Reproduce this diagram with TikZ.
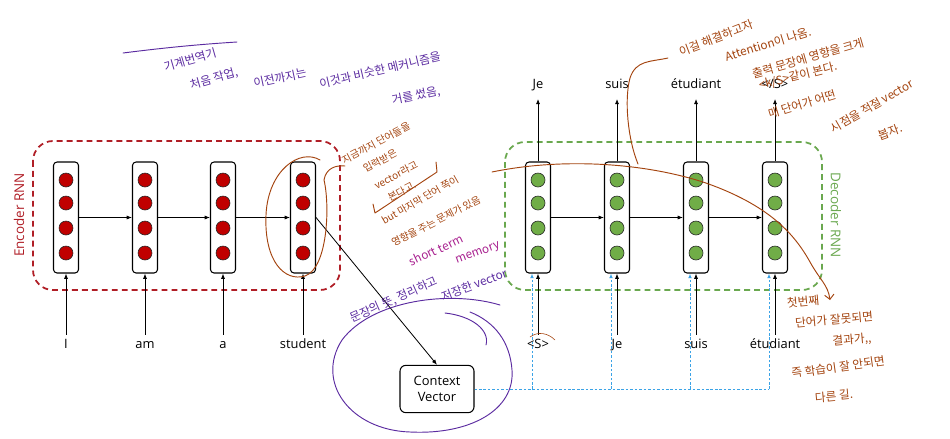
\documentclass[tikz,border=0pt]{standalone}
\usepackage{fontspec}
\setmainfont{Open Sans}
\newfontfamily\kor{Noto Sans CJK KR}
\usepackage{xcolor}
\usepackage{tikz}
\usetikzlibrary{positioning,arrows.meta}

\definecolor{cellred}{HTML}{C00000}
\definecolor{cellgreen}{HTML}{70AD47}
\definecolor{encline}{HTML}{B01E26}
\definecolor{decline}{HTML}{6AA84F}
\definecolor{ctxblue}{HTML}{3BA3E6}
\definecolor{inkbrown}{HTML}{A3430E}
\definecolor{inkpurple}{HTML}{5B2BA0}
\definecolor{inkpink}{HTML}{A8208F}

\begin{document}
\begin{tikzpicture}[
  x=0.03cm, y=-0.03cm,
  font=\fontsize{11}{13}\selectfont,
  cell/.style={
    rectangle, rounded corners=3pt, draw=black, line width=0.9pt,
    minimum width=0.75cm, minimum height=3.33cm, fill=white
  },
  encdot/.style={circle, draw=black!85, line width=0.5pt, fill=cellred,
    minimum size=0.42cm, inner sep=0pt},
  decdot/.style={encdot, fill=cellgreen},
  word/.style={inner sep=1pt, text height=1.5ex, text depth=0.25ex},
  ctxbox/.style={
    rectangle, rounded corners=5pt, draw=black, line width=0.9pt,
    minimum width=2.22cm, minimum height=1.42cm, align=center, fill=white
  },
  arr/.style={-{Latex[length=4.5pt,width=3.5pt]}, line width=0.7pt},
  feed/.style={-{Latex[length=4pt,width=3.2pt]}, draw=ctxblue, line width=0.8pt,
    dash pattern=on 2.2pt off 1.6pt},
  rnnbox/.style={rounded corners=0.6cm, line width=1.5pt, dash pattern=on 5pt off 3.5pt},
  rnnlbl/.style={font=\fontsize{11.5}{13}\selectfont},
  note/.style={font=\kor\fontsize{10}{12}\selectfont, inner sep=0pt, align=center},
  small note/.style={note, font=\kor\fontsize{8.5}{10}\selectfont},
  ink/.style={line width=0.8pt, line cap=round, line join=round}
]
\useasboundingbox (0,0) rectangle (950,438);

\draw[rnnbox, draw=encline] (33,141) rectangle (340,290);
\draw[rnnbox, draw=decline] (505,142) rectangle (822,290);
\node[rnnlbl, text=encline, rotate=90] (enclbl) at (19,215) {Encoder RNN};
\node[rnnlbl, text=decline, rotate=-90] (declbl) at (836,215) {Decoder RNN};

% encoder and decoder cells
\foreach \x [count=\i] in {66,145,223,303} {
  \node[cell] (enc\i) at (\x,217.5) {};
  \foreach \y [count=\j] in {180,203,228,253}
    \node[encdot] (enc\i-\j) at (\x,\y) {};
}
\foreach \x [count=\i] in {538,617,696,775} {
  \node[cell] (dec\i) at (\x,217.5) {};
  \foreach \y [count=\j] in {180,203,228,253}
    \node[decdot] (dec\i-\j) at (\x,\y) {};
}

\node[word] (in1) at (66,345) {I};
\node[word] (in2) at (145,345) {am};
\node[word] (in3) at (223,345) {a};
\node[word] (in4) at (303,345) {student};

\node[word] (din1) at (538,345) {<S>};
\node[word] (din2) at (617,345) {Je};
\node[word] (din3) at (696,345) {suis};
\node[word] (din4) at (775,345) {étudiant};

\node[word] (out1) at (538,85) {Je};
\node[word] (out2) at (617,85) {suis};
\node[word] (out3) at (696,85) {étudiant};
\node[word] (out4) at (775,85) {</S>};

\node[ctxbox] (ctx) at (437,389) {Context\\Vector};

\draw[arr] (enc1) -- (enc2);
\draw[arr] (enc2) -- (enc3);
\draw[arr] (enc3) -- (enc4);
\draw[arr] (dec1) -- (dec2);
\draw[arr] (dec2) -- (dec3);
\draw[arr] (dec3) -- (dec4);
\foreach \i in {1,...,4} {
  \draw[arr, shorten <=3pt] (in\i) -- (enc\i);
  \draw[arr, shorten <=3pt] (din\i) -- (dec\i);
  \draw[arr, shorten >=6pt] (dec\i) -- (out\i);
}
\draw[arr] (enc4.east) -- (ctx.north);

% context vector fed to every decoder step
\foreach \i in {1,...,4}
  \coordinate (f\i) at ([xshift=-0.18cm]dec\i.south);
\draw[feed, -] (ctx.east) -- (ctx.east -| f4);
\foreach \i in {1,...,4}
  \draw[feed] (ctx.east -| f\i) -- (f\i);

% handwritten notes
\draw[ink, draw=inkpurple] (123,53) .. controls (170,47) and (205,44) .. (237,42);
\node[note, text=inkpurple, rotate=16] (na1) at (190,60) {기계번역기};
\node[note, text=inkpurple, rotate=16] (na2) at (214,79) {처음 작업,};
\node[note, text=inkpurple, rotate=12] (nb1) at (280,78) {이전까지는};
\node[note, text=inkpurple, rotate=13] (nb2) at (380,70) {이것과 비슷한 메커니즘을};
\node[note, text=inkpurple, rotate=12] (nb3) at (416,96) {거를 썼음,};

\draw[ink, draw=inkbrown] (320,160) .. controls (300,148) and (268,170) .. (266,215)
  .. controls (264,262) and (285,282) .. (305,276)
  .. controls (328,268) and (330,205) .. (324,180)
  .. controls (326,168) and (336,165) .. (345,166);
\node[small note, text=inkbrown, rotate=28] (nc1) at (376,143) {지금까지 단어들을};
\node[small note, text=inkbrown, rotate=28] (nc2) at (380,161) {입력받은};
\node[small note, text=inkbrown, rotate=28] (nc3) at (396,175) {vector라고};
\node[small note, text=inkbrown, rotate=28] (nc4) at (402,191) {본다고.};
\draw[ink, draw=inkbrown] (373,204) -- (375,213) -- (437,172) -- (436,162);
\node[small note, text=inkbrown, rotate=30] (nc5) at (420,200) {but 마지막 단어 쪽이};
\node[small note, text=inkbrown, rotate=27] (nc6) at (436,221) {영향을 주는 문제가 있음};
\node[note, text=inkpink, rotate=25] (nc7) at (436,250) {short term};
\node[note, text=inkpink, rotate=20] (nc8) at (478,254) {memory};

\draw[ink, draw=inkpurple] (500,305) .. controls (450,290) and (372,300) .. (342,340)
  .. controls (315,382) and (350,430) .. (410,432)
  .. controls (470,435) and (515,410) .. (512,370)
  .. controls (510,342) and (495,322) .. (470,312);
\draw[ink, draw=inkpurple] (445,313) .. controls (472,316) and (490,330) .. (486,345);
\node[note, text=inkpurple, rotate=24] (nd1) at (394,300) {문장의 뜻, 정리하고};
\node[note, text=inkpurple, rotate=21] (nd2) at (474,285) {저장한 vector};

\draw[ink, draw=inkbrown, line width=0.5pt] (530,337) .. controls (538,331) and (548,333) .. (555,340);
\draw[ink, draw=inkbrown] (638,164) .. controls (628,140) and (624,100) .. (630,78)
  .. controls (636,60) and (650,62) .. (668,58);
\draw[ink, draw=inkbrown, -{Straight Barb[length=4pt]}] (492,172) .. controls (560,158) and (640,162) .. (703,182)
  .. controls (770,205) and (795,235) .. (810,262)
  .. controls (820,280) and (828,285) .. (830,300);

\node[note, text=inkbrown, rotate=21] (ne1) at (716,38) {이걸 해결하고자};
\node[note, text=inkbrown, rotate=17] (ne2) at (768,44) {Attention이 나옴.};
\node[note, text=inkbrown, rotate=16] (ne3) at (808,58) {출력 문장에 영향을 크게};
\node[note, text=inkbrown, rotate=14] (ne4) at (798,76) {<k/S>같이 본다.};
\node[note, text=inkbrown, rotate=17] (ne6) at (802,104) {매 단어가 어떤};
\node[note, text=inkbrown, rotate=30] (ne7) at (872,106) {시점을 적절 vector};
\node[note, text=inkbrown, rotate=20] (ne8) at (890,132) {봅자.};

\node[note, text=inkbrown, rotate=5] (nf1) at (803,302) {첫번째};
\node[note, text=inkbrown, rotate=5] (nf2) at (834,320) {단어가 잘못되면};
\node[note, text=inkbrown, rotate=5] (nf3) at (852,340) {결과가,,};
\node[note, text=inkbrown, rotate=8] (nf4) at (838,367) {즉 학습이 잘 안되면};
\node[note, text=inkbrown, rotate=5] (nf5) at (834,396) {다른 길.};
\end{tikzpicture}
\end{document}
